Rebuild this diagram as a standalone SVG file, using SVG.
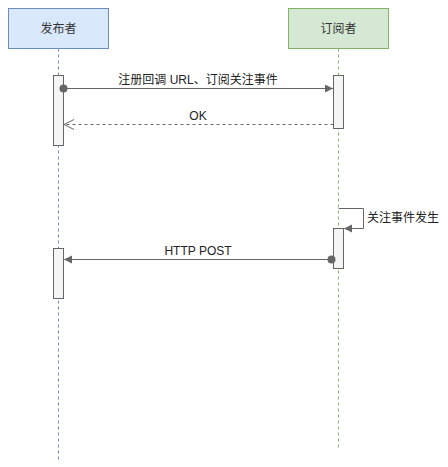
<svg xmlns="http://www.w3.org/2000/svg" width="448" height="467" viewBox="0 0 448 467">
<style>
text{font-family:"Liberation Sans","Noto Sans CJK SC",sans-serif;fill:#222}
.hd{font-size:12px;text-anchor:middle;fill:#333}
.lb{font-size:12px;text-anchor:middle}
.act{fill:#f5f5f5;stroke:#666;stroke-width:1}
.msg{fill:none;stroke:#666;stroke-width:1}
</style>
<defs>
<marker id="fa" markerWidth="10" markerHeight="10" refX="8" refY="4" orient="auto" markerUnits="userSpaceOnUse"><path d="M0,0 L8,4 L0,8 Z" fill="#666"/></marker>
<marker id="oa" markerWidth="12" markerHeight="12" refX="10" refY="5" orient="auto" markerUnits="userSpaceOnUse"><path d="M0,0 L10,5 L0,10" fill="none" stroke="#666"/></marker>
</defs>
<g id="publisher">
<rect x="8.5" y="8.5" width="100" height="40" fill="#dae8fc" stroke="#6c8ebf"/>
<text class="hd" x="58.5" y="33">发布者</text>
<line x1="58.5" y1="48.5" x2="58.5" y2="460" stroke="#6c8ebf" stroke-dasharray="3 3"/>
<rect class="act" x="53.5" y="75.5" width="10" height="70"/>
<rect class="act" x="53.5" y="248.5" width="10" height="50"/>
</g>
<g id="subscriber">
<rect x="288.5" y="8.5" width="100" height="40" fill="#d5e8d4" stroke="#82b366"/>
<text class="hd" x="338.5" y="33">订阅者</text>
<line x1="338.5" y1="48.5" x2="338.5" y2="448" stroke="#82b366" stroke-dasharray="3 3"/>
<rect class="act" x="333.5" y="75.5" width="10" height="53"/>
<rect class="act" x="333.5" y="228.5" width="10" height="40"/>
</g>
<g id="connectors">
<circle cx="63.5" cy="88.5" r="4" fill="#666"/>
<line class="msg" x1="63.5" y1="88.5" x2="333" y2="88.5" marker-end="url(#fa)"/>
<text class="lb" x="198" y="84">注册回调 URL、订阅关注事件</text>
<line class="msg" x1="333.5" y1="124.5" x2="64" y2="124.5" stroke-dasharray="3 3" marker-end="url(#oa)"/>
<text class="lb" x="198" y="120">OK</text>
<path class="msg" d="M338.5,208.5 H363.5 V228.5 H344" marker-end="url(#fa)"/>
<text class="lb" x="367" y="222" style="text-anchor:start">关注事件发生</text>
<circle cx="331.5" cy="259.5" r="4" fill="#666"/>
<line class="msg" x1="331.5" y1="259.5" x2="64" y2="259.5" marker-end="url(#fa)"/>
<text class="lb" x="198" y="255">HTTP POST</text>
</g>
</svg>
